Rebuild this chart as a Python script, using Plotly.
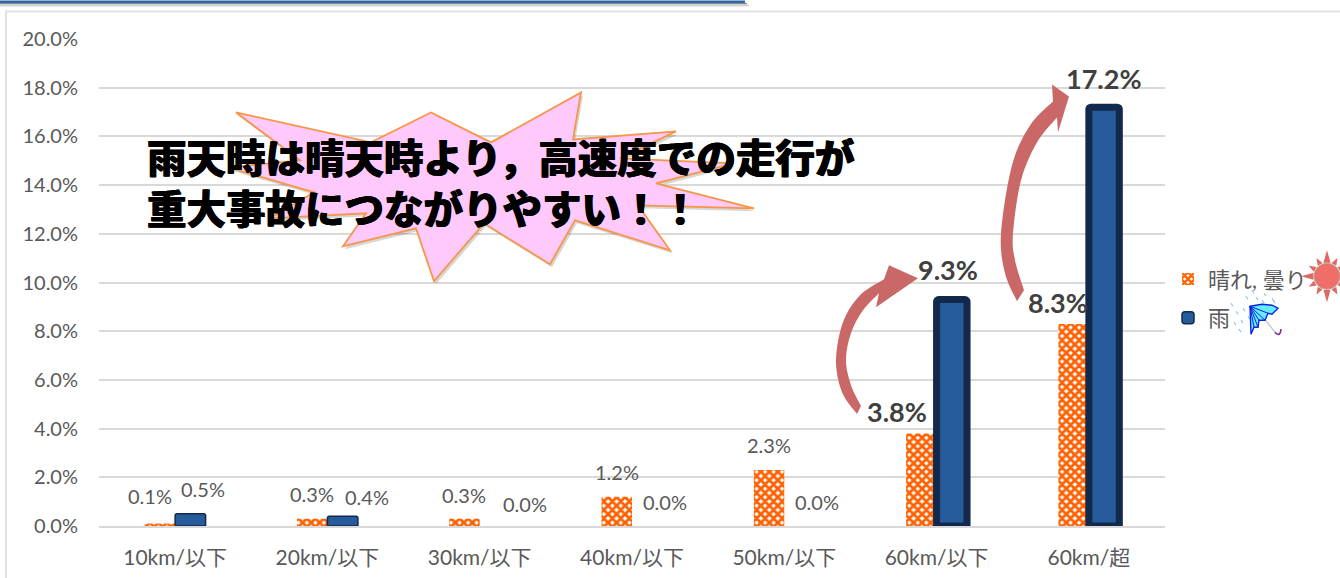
import math
import plotly.graph_objects as go

# ---- data ----
categories = ["10km/以下", "20km/以下", "30km/以下", "40km/以下", "50km/以下", "60km/以下", "60km/超"]
fine_values = [0.1, 0.3, 0.3, 1.2, 2.3, 3.8, 8.3]
rain_values = [0.5, 0.4, 0.0, 0.0, 0.0, 9.3, 17.2]
series_names = ["晴れ, 曇り", "雨"]
headline = ["雨天時は晴天時より，高速度での走行が", "重大事故につながりやすい！！"]

# ---- label placement (pixel offsets from each bar's top) ----
fine_dx = [-25, -15.5, -16, -15, -15, -40, -31]
fine_dy = [28, 25, 24, 25, 25, 22, 21]
rain_dx = [28, 39.5, 45, 33, 33, 11, 15]
rain_dy = [25, 19, 22, 24, 24, 30, 29]
rain_line = [1.5, 1.5, 0, 0, 0, 7, 7]
bold_from = 5

W, H = 1340, 578
L, R, T, B = 99, 1165, 38.5, 526
FONT = "Lato, 'Noto Sans CJK JP', sans-serif"
JP = "'Noto Sans CJK JP', sans-serif"
GREY = "#595959"
GRID = "#d9d9d9"


def px(x, y):
    return (x - L) / (R - L), (B - y) / (B - T)


def curve(a, m, b, n=24):
    cx, cy = 2 * m[0] - (a[0] + b[0]) / 2, 2 * m[1] - (a[1] + b[1]) / 2
    out = []
    for i in range(n + 1):
        t = i / n
        out.append(((1 - t) ** 2 * a[0] + 2 * t * (1 - t) * cx + t * t * b[0],
                    (1 - t) ** 2 * a[1] + 2 * t * (1 - t) * cy + t * t * b[1]))
    return out


def smooth(pts, n=10):
    """Catmull-Rom polyline through the given outline points."""
    out = []
    p = [pts[0]] + list(pts) + [pts[-1]]
    for i in range(1, len(p) - 2):
        p0, p1, p2, p3 = p[i - 1], p[i], p[i + 1], p[i + 2]
        for j in range(n):
            t = j / n
            out.append(tuple(
                0.5 * (2 * p1[k] + (p2[k] - p0[k]) * t + (2 * p0[k] - 5 * p1[k] + 4 * p2[k] - p3[k]) * t * t
                       + (3 * p1[k] - p0[k] - 3 * p2[k] + p3[k]) * t ** 3) for k in (0, 1)))
    out.append(pts[-1])
    return out


def pshape(points, fill, line=None, width=0, closed=True):
    c = [px(*p) for p in points]
    path = "M" + " L".join(f"{a:.5f},{b:.5f}" for a, b in c) + (" Z" if closed else "")
    return dict(type="path", xref="paper", yref="paper", path=path,
                fillcolor=fill if closed else "rgba(0,0,0,0)",
                line=dict(color=line or "rgba(0,0,0,0)", width=width), layer="above")


shapes = []


def rect(x0, y0, x1, y1, fill):
    a, b = px(x0, y0), px(x1, y1)
    return dict(type="rect", xref="paper", yref="paper", x0=a[0], y0=a[1], x1=b[0], y1=b[1],
                fillcolor=fill, line=dict(width=0), layer="below")


# page furniture
shapes += [rect(0, 0, 745, 2.5, "#2f66a8"), rect(0, 2.5, 747, 4, "#8c8c8c"), rect(0, 4, 749, 6, "#d5d5d5"),
           rect(5, 10, W, 12, "#e2e2e2"), rect(5, 10, 7, H, "#e2e2e2")]

# callout star
star = [(236, 112), (371, 142), (431, 112), (491, 142), (581, 92), (573, 139), (676, 131), (620, 158),
        (734, 163), (656, 183), (754, 208), (638, 205), (670, 250), (575, 220), (550, 264), (484, 223),
        (434, 281), (416, 228), (343, 246), (366, 213), (270, 218), (314, 192), (228, 167), (300, 160)]
shapes.append(pshape([(x + 2, y + 3) for x, y in star], "rgba(0,0,0,0.16)"))
shapes.append(pshape(star, "#ffc9fb", "#f79646", 1.8))

# curved arrows
ARROW = "#c96866"
shapes.append(pshape(
    smooth([(884, 279), (860, 295), (843, 322), (836, 360), (842, 392), (857, 414)]) +
    smooth([(861, 406), (851, 385), (846, 360), (851, 333), (863, 310), (879, 293)]) +
    [(876, 307), (918, 278), (889, 265)], ARROW))
shapes.append(pshape(
    smooth([(1053, 101), (1030, 125), (1012, 165), (1001, 233), (1005, 273), (1017, 301)]) +
    smooth([(1024, 290), (1015, 260), (1013, 233), (1021, 180), (1037, 142), (1057, 117)]) +
    [(1058, 132), (1069, 96), (1052, 84)], ARROW))

# sun
sx, sy = 1327, 276
for i in range(12):
    ang = math.radians(i * 30 - 90)
    big = i % 3 == 0
    r0, r1, hw = 14, (26 if big else 21), (0.26 if big else 0.2)
    shapes.append(pshape([(sx + r0 * math.cos(ang - hw), sy + r0 * math.sin(ang - hw)),
                          (sx + r1 * math.cos(ang), sy + r1 * math.sin(ang)),
                          (sx + r0 * math.cos(ang + hw), sy + r0 * math.sin(ang + hw))], "#dc6a63"))
a, b = px(sx - 13, sy - 13), px(sx + 13, sy + 13)
shapes.append(dict(type="circle", xref="paper", yref="paper", x0=a[0], y0=a[1], x1=b[0], y1=b[1],
                   fillcolor="#ef6f68", line=dict(color="#b9a3a0", width=1), layer="above"))

# rain
for x, y in [(1231, 303), (1236, 311), (1241, 320), (1239, 329), (1246, 296), (1243, 308), (1248, 316),
             (1252, 290), (1256, 297), (1264, 293), (1272, 298), (1273, 300), (1262, 300), (1234, 322)]:
    shapes.append(pshape([(x, y), (x + 2, y + 3)], None, "#8fc3ea", 1.2, closed=False))

# umbrella
rim = [(1278, 308), (1272, 314), (1268, 313), (1265, 320), (1259, 320), (1258, 327), (1254, 327), (1251, 334)]
shapes.append(pshape([(1264, 318), (1275, 332)], None, "#c8c8c8", 1.4, closed=False))
shapes.append(pshape(curve((1275, 332), (1279, 334), (1281, 329)), None, "#7a2a86", 1.6, closed=False))
shapes.append(pshape([(1250, 306)] + [(1262, 304), (1272, 305)] + rim, "#66ecff", "#0a22e6", 1.4))
for x, y in [(1268, 313), (1265, 320), (1259, 320), (1258, 327), (1254, 327)]:
    shapes.append(pshape([(1250, 306), (x, y)], None, "#0a22e6", 1, closed=False))

# ---- figure ----
fig = go.Figure()
fig.add_bar(
    x=categories, y=fine_values, name=series_names[0], legendgroup="a",
    marker=dict(color="#ffffff", line=dict(width=0),
                pattern=dict(shape="x", fgcolor="#ff6000", fgopacity=1, bgcolor="#ffffff", size=6, solidity=0.72)),
)
fig.add_bar(
    x=categories, y=rain_values, name=series_names[1], legendgroup="b",
    marker=dict(color="#265b9c", line=dict(color="#12294b", width=rain_line), cornerradius=2),
)

annotations = []
for i, cat in enumerate(categories):
    for v, dx, dy in ((fine_values[i], fine_dx[i], fine_dy[i]), (rain_values[i], rain_dx[i], rain_dy[i])):
        strong = i >= bold_from
        annotations.append(dict(
            x=cat, y=v, xref="x", yref="y", xshift=dx, yshift=dy, showarrow=False,
            text=f"<b>{v:.1f}%</b>" if strong else f"{v:.1f}%",
            font=dict(family=FONT, size=27 if strong else 20, color="#404040" if strong else GREY),
            xanchor="center", yanchor="middle",
        ))

pos = px(145, 181)
annotations.append(dict(
    x=pos[0], y=pos[1], xref="paper", yref="paper", text="<br>".join(headline), showarrow=False,
    xanchor="left", yanchor="middle", align="left",
    font=dict(family=JP, size=39.5, color="#000000", weight=900,
              shadow="0.6px 0 0 #000, -0.6px 0 0 #000"),
))

fig.update_layout(
    width=W, height=H, autosize=False,
    margin=dict(l=L, r=W - R, t=T, b=H - B, pad=0),
    paper_bgcolor="#ffffff", plot_bgcolor="#ffffff",
    barmode="group", bargap=0.6, bargroupgap=0,
    font=dict(family=FONT, size=18, color=GREY),
    xaxis=dict(showgrid=False, showline=True, linecolor=GRID, linewidth=2, ticks="", automargin=False,
               layer="above traces", ticklabelstandoff=12,
               tickfont=dict(family=FONT, size=21, color=GREY)),
    yaxis=dict(range=[0, 20], dtick=2, tickformat=".1f", ticksuffix="%", showline=False, zeroline=False,
               gridcolor=GRID, gridwidth=2, ticks="", ticklabelstandoff=20, automargin=False,
               tickfont=dict(family=FONT, size=20, color=GREY)),
    legend=dict(x=px(1168, 0)[0], y=px(0, 258)[1], xanchor="left", yanchor="top", traceorder="grouped",
                tracegroupgap=7, itemwidth=30, bgcolor="rgba(0,0,0,0)",
                font=dict(family=FONT, size=22, color=GREY)),
    shapes=shapes,
    annotations=annotations,
)
fig.write_html("out.html", config={"displayModeBar": False}, post_script="document.body.style.margin='0';")
